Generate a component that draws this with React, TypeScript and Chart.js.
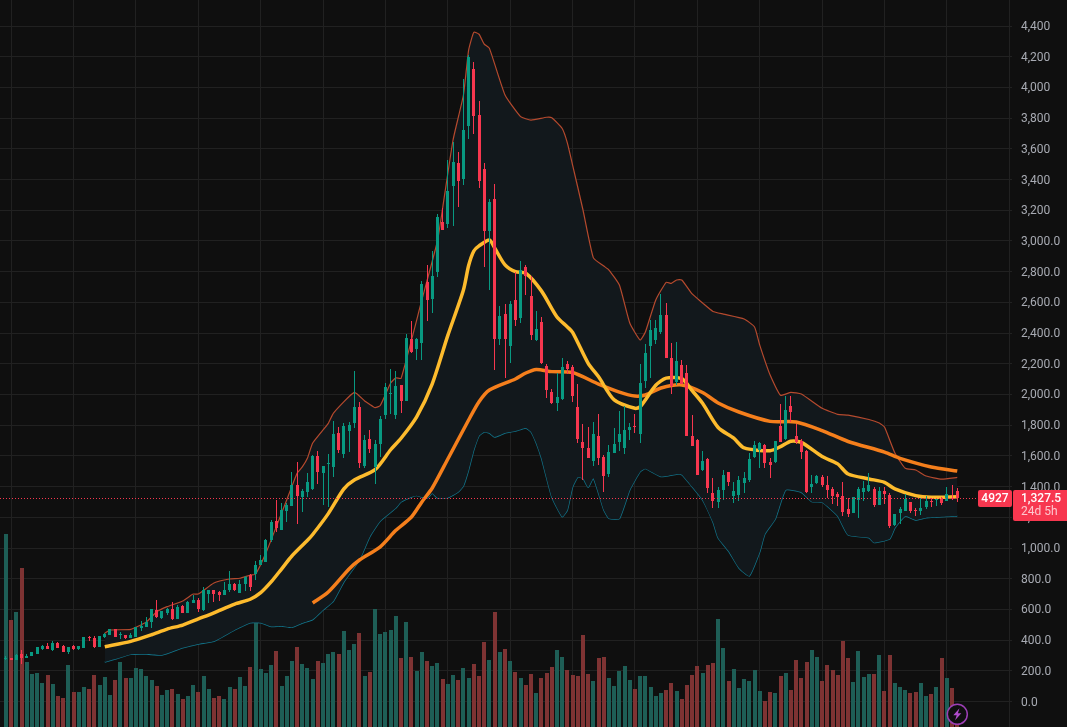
import React, { useEffect, useRef } from "react";
import Chart from "chart.js/auto";

const opens = [
  279,282,271,310,284,297,310,344,362,336,
  381,362,323,360,342,349,418,414,353,418,
  433,470,431,431,414,423,479,486,516,596,
  542,579,603,538,622,577,642,661,598,698,
  724,713,694,727,766,709,766,822,829,889,
  911,1050,1176,1117,1239,1274,1411,1330,1365,1385,
  1599,1489,1550,1528,1749,1612,1762,1814,1919,1534,
  1710,1528,1678,1866,2000,1866,2062,1958,2362,2297,
  2338,2734,2623,2799,3127,3111,3359,3509,3404,3750,
  4121,3821,3470,3066,3274,2362,2525,2317,2616,2499,
  2831,2642,2356,2473,2186,2017,1946,1972,2200,2179,
  1919,1691,1652,1567,1730,1593,1482,1619,1691,1652,
  1769,1795,1743,2088,2316,2355,2407,2518,2238,2081,
  2192,2140,1730,1704,1508,1580,1359,1300,1378,1495,
  1339,1345,1424,1443,1593,1638,1671,1560,1560,1795,
  1710,1925,1730,1697,1632,1398,1424,1463,1411,1385,
  1352,1339,1254,1228,1313,1365,1372,1385,1280,1372,
  1346,1150,1228,1241,1300,1248,1241,1267,1300,1311,
  1319,1306,1324,1373,
];
const closes = [
  283,271,305,281,295,323,353,362,342,381,
  349,323,353,342,362,418,414,353,427,440,
  470,418,436,414,433,483,494,520,601,551,
  590,601,538,616,577,651,661,603,727,724,
  700,694,727,766,727,766,811,746,889,924,
  1050,1169,1132,1248,1278,1411,1339,1369,1428,1599,
  1497,1534,1552,1743,1636,1795,1801,1919,1554,1704,
  1645,1678,1840,2049,2010,2055,1958,2369,2280,2362,
  2720,2616,2773,3159,3072,3326,3515,3391,3724,4201,
  3815,3391,3066,3255,2362,2512,2362,2590,2486,2812,
  2773,2388,2427,2206,2030,1946,1985,2180,2167,1990,
  1710,1652,1587,1743,1587,1469,1626,1678,1743,1769,
  1788,1791,2075,2270,2420,2433,2518,2238,2055,2218,
  2068,1730,1665,1476,1567,1391,1306,1378,1476,1430,
  1372,1443,1456,1580,1671,1682,1554,1541,1697,1691,
  1899,1886,1691,1626,1365,1417,1469,1411,1378,1339,
  1333,1235,1222,1332,1385,1391,1411,1280,1372,1352,
  1144,1222,1254,1319,1241,1241,1261,1306,1297,1317,
  1293,1352,1319,1327.5,
];
const highs = [
  295,283,309,336,310,325,355,368,379,394,
  386,368,357,370,364,420,427,427,428,449,
  471,471,453,433,444,488,522,551,602,661,
  592,609,648,627,627,653,694,674,744,726,
  727,720,779,850,770,792,818,829,915,955,
  1059,1180,1313,1291,1296,1495,1560,1385,1487,1606,
  1632,1534,1612,1827,1788,1814,1821,2153,1951,1736,
  1769,1704,1860,2075,2166,2153,2062,2395,2480,2370,
  2740,2844,2935,3179,3213,3528,3645,3580,4056,4210,
  4166,3912,3509,3274,3372,2577,2590,2610,2799,2870,
  2844,2773,2545,2506,2200,2037,2139,2239,2219,2192,
  2068,1808,1788,1821,1873,1606,1671,1782,1893,1925,
  1814,1873,2199,2329,2485,2485,2655,2596,2335,2342,
  2225,2192,1867,1708,1632,1586,1456,1398,1508,1497,
  1430,1470,1495,1619,1697,1691,1680,1587,1699,1938,
  1990,1990,1808,1710,1639,1476,1476,1476,1469,1398,
  1365,1430,1326,1334,1398,1437,1489,1398,1398,1398,
  1359,1224,1267,1352,1302,1261,1326,1339,1326,1326,
  1330,1398,1409,1389,
];
const lows = [
  268,270,270,245,282,296,308,336,340,329,
  347,322,310,336,336,347,392,349,352,414,
  432,417,407,405,412,421,460,485,479,544,
  538,564,531,536,575,575,640,583,592,642,
  651,657,692,711,722,705,720,722,792,888,
  907,1041,1107,1117,1170,1274,1157,1235,1330,1378,
  1417,1280,1269,1463,1621,1586,1625,1782,1521,1521,
  1619,1417,1593,1840,1873,1840,1880,1958,2269,2226,
  2226,2480,2530,2766,3072,3085,3098,3222,3365,3665,
  3697,3346,2831,2681,2160,2323,2108,2206,2447,2467,
  2649,2356,2350,2200,1978,1939,1893,1965,2134,1951,
  1684,1443,1585,1534,1541,1365,1463,1617,1632,1613,
  1702,1749,1684,2042,2108,2329,2394,2236,2003,2062,
  2066,1728,1663,1474,1502,1359,1261,1261,1313,1404,
  1290,1309,1356,1430,1587,1521,1521,1456,1554,1689,
  1704,1821,1678,1580,1359,1359,1417,1395,1326,1287,
  1274,1209,1202,1226,1196,1306,1365,1267,1278,1287,
  1131,1144,1157,1239,1228,1209,1215,1254,1267,1274,
  1280,1304,1313,1300,
];
const volumes = [
  193,107,115,159,65,53,54,44,52,43,
  31,29,62,35,35,40,38,52,42,50,
  32,47,65,49,49,59,58,51,47,41,
  32,37,38,33,28,31,42,35,51,38,
  29,31,28,40,38,50,41,60,120,58,
  54,62,76,41,51,66,80,63,59,48,
  66,64,73,75,73,96,77,83,94,51,
  55,118,93,95,97,111,69,105,70,56,
  75,66,61,64,48,43,52,47,59,49,
  63,51,85,67,115,75,78,66,55,49,
  42,53,34,49,54,60,77,70,57,52,
  51,92,53,46,69,70,49,41,56,61,
  47,38,51,51,40,31,34,37,44,36,
  28,42,52,61,54,62,64,108,79,46,
  58,39,48,46,57,36,26,35,34,51,
  54,37,67,49,65,77,70,46,62,57,
  52,86,69,45,76,50,53,53,72,36,
  72,44,40,37,34,35,44,31,33,40,
  69,49,39,2,
];

const fastIdx = [
  19,24,28,31,34,37,40,44,47,49,
  51,53,55,58,59,62,65,67,71,74,
  76,79,82,85,88,89,90,91,93,
  94,96,98,100,103,106,108,109,112,114,
  117,121,122,125,127,130,132,134,137,140,
  142,147,149,151,153,157,160,162,166,169,
  171,175,178,183,
];
const fastMa = [
  357,392,435,472,498,538,578,635,666,709,
  779,863,948,1050,1088,1224,1385,1443,1510,1640,
  1715,1855,2070,2385,2681,2840,2935,2968,3007,
  2955,2844,2800,2790,2675,2505,2440,2405,2203,2115,
  1965,1910,1920,2060,2107,2103,2025,1943,1785,1715,
  1652,1634,1660,1695,1688,1596,1548,1482,1450,1428,
  1385,1341,1330,1334,
];
const slowIdx = [
  59,62,66,68,72,75,78,80,82,85,
  89,91,93,98,100,102,105,109,114,118,
  121,123,126,130,134,137,141,147,152,157,
  162,169,172,178,183,
];
const slowMa = [
  642,713,863,922,1008,1115,1202,1300,1391,1580,
  1834,1953,2029,2101,2140,2163,2149,2143,2068,2016,
  1990,1997,2042,2062,2013,1945,1886,1825,1821,1765,
  1694,1625,1584,1528,1502,
];
const upperIdx = [
  19,20,24,27,29,31,34,36,37,40,
  43,45,47,48,50,52,54,56,57,58,
  59,62,63,67,69,70,71,72,74,75,
  76,80,83,84,86,88,89,90,91,92,
  93,96,99,101,104,105,107,108,109,111,
  113,115,116,118,120,122,123,125,127,128,
  129,130,132,134,136,138,142,144,145,147,
  149,151,153,157,160,162,166,168,169,171,
  173,175,177,180,183,
];
const upperBand = [
  444,466,470,518,585,618,655,700,700,772,
  798,803,824,829,967,1139,1313,1487,1528,1586,
  1684,1812,1879,2014,1958,1935,1914,1928,2075,2108,
  2105,2616,3000,3215,3658,3951,4244,4360,4347,4283,
  4255,3951,3810,3788,3806,3803,3733,3638,3495,3202,
  2890,2837,2811,2713,2466,2355,2407,2616,2731,2724,
  2746,2746,2655,2596,2541,2524,2492,2440,2322,2127,
  1995,2014,2003,1910,1871,1866,1837,1814,1788,1619,
  1519,1508,1469,1449,1460,
];
const lowerIdx = [
  19,21,24,27,30,34,37,40,44,47,
  49,51,53,55,57,59,61,63,65,68,
  70,72,75,76,78,79,81,82,83,85,
  87,88,89,90,91,92,93,94,96,98,
  100,101,102,103,105,107,108,109,110,111,
  112,113,115,116,118,120,122,123,126,129,
  130,132,134,136,137,139,141,143,145,146,
  148,150,153,155,157,160,162,166,167,170,
  171,173,175,177,183,
];
const lowerBand = [
  257,277,307,309,303,350,375,392,466,513,
  513,489,492,483,511,534,596,655,778,922,
  1074,1176,1261,1300,1332,1341,1324,1356,1326,1328,
  1365,1404,1508,1638,1730,1756,1749,1723,1749,1762,
  1782,1756,1684,1586,1332,1204,1248,1397,1461,1454,
  1395,1454,1248,1193,1191,1378,1497,1517,1465,1480,
  1478,1399,1313,1169,1065,980,870,818,974,1091,
  1189,1378,1363,1302,1298,1208,1085,1067,1035,1059,
  1130,1208,1182,1197,1208,
];

const priceTicks = [
  0,200,400,600,800,1000,1200,1400,1600,1800,2000,2200,
  2400,2600,2800,3000,3200,3400,3600,3800,4000,4200,4400,
];
const gridIdx = [1,13,25,37,49,61,73,85,97,109,121,133,145,157,169,181,193];
const lastLabel = "1,327.5";
const countdownLabel = "24d 5h";
const barCountLabel = "4927";

const UP = "#089981";
const DOWN = "#f7374f";
const FONT = "Roboto";
const labels = opens.map((_, i) => i);
const candleColor = (c: any) =>
  closes[c.dataIndex] >= opens[c.dataIndex] ? UP : DOWN;
const points = (idx: number[], vals: number[]) =>
  idx.map((x, k) => ({ x, y: vals[k] }));

// Keeps bars on whole device pixels, as the reference's renderer does.
const snapBars = {
  id: "snapBars",
  beforeDatasetsDraw(chart: any) {
    chart.data.datasets.forEach((ds: any, i: number) => {
      if (ds.type === "line") return;
      chart.getDatasetMeta(i).data.forEach((el: any) => {
        if (ds.barThickness % 2 === 1) el.x = Math.floor(el.x) + 0.5;
        else el.x = Math.round(el.x);
        const top = Math.round(Math.min(el.y, el.base));
        const bottom = Math.max(Math.round(Math.max(el.y, el.base)), top + 1);
        el.y = top;
        el.base = bottom;
      });
    });
  },
};

const overlay = {
  id: "overlay",
  afterDatasetsDraw(chart: any) {
    const { ctx, scales } = chart;
    const y = Math.round(scales.y.getPixelForValue(closes[closes.length - 1])) + 0.5;
    ctx.save();
    ctx.strokeStyle = DOWN;
    ctx.lineWidth = 1;
    ctx.setLineDash([1, 2]);
    ctx.beginPath();
    ctx.moveTo(0, y);
    ctx.lineTo(978, y);
    ctx.stroke();
    ctx.setLineDash([]);

    ctx.fillStyle = DOWN;
    ctx.beginPath();
    ctx.roundRect(978, 490, 34, 17, 2);
    ctx.fill();
    ctx.beginPath();
    ctx.roundRect(1013, 490, 54, 31, [2, 0, 0, 2]);
    ctx.fill();

    ctx.textBaseline = "middle";
    ctx.textAlign = "center";
    ctx.fillStyle = "#ffffff";
    ctx.font = `500 12px ${FONT}`;
    ctx.fillText(barCountLabel, 995, 499);
    ctx.textAlign = "left";
    ctx.fillText(lastLabel, 1021, 499);
    ctx.font = `400 12px ${FONT}`;
    ctx.fillStyle = "rgba(255,255,255,0.72)";
    ctx.fillText(countdownLabel, 1021, 512);

    const cx = 957.3;
    const cy = 714.3;
    ctx.beginPath();
    ctx.arc(cx, cy, 10, 0, Math.PI * 2);
    ctx.fillStyle = "#0f0f0f";
    ctx.fill();
    ctx.lineWidth = 1.5;
    ctx.strokeStyle = "#9c3fb5";
    ctx.stroke();
    ctx.fillStyle = "#b04ccc";
    ctx.beginPath();
    ctx.moveTo(cx + 2.2, cy - 6);
    ctx.lineTo(cx - 4, cy + 1);
    ctx.lineTo(cx - 0.6, cy + 1);
    ctx.lineTo(cx - 2.2, cy + 6);
    ctx.lineTo(cx + 4, cy - 1);
    ctx.lineTo(cx + 0.6, cy - 1);
    ctx.closePath();
    ctx.fill();
    ctx.restore();
  },
};

export default function App() {
  const ref = useRef<HTMLCanvasElement>(null);
  useEffect(() => {
    const chart = new Chart(ref.current as HTMLCanvasElement, {
      type: "bar",
      plugins: [snapBars, overlay],
      data: {
        labels,
        datasets: [
          {
            label: "Volume",
            data: volumes,
            yAxisID: "vol",
            order: 6,
            grouped: false,
            barThickness: 4,
            inflateAmount: 0,
            backgroundColor: (c: any) =>
              closes[c.dataIndex] >= opens[c.dataIndex] ? "#1e5e56" : "#7e3333",
          },
          {
            type: "line",
            label: "Upper band",
            data: points(upperIdx, upperBand),
            order: 5,
            borderColor: "#b54a2e",
            borderWidth: 1.2,
            pointRadius: 0,
            tension: 0.15,
            fill: "+1",
            backgroundColor: "#12181c",
          },
          {
            type: "line",
            label: "Lower band",
            data: points(lowerIdx, lowerBand),
            order: 5,
            borderColor: "#12748a",
            borderWidth: 1.4,
            pointRadius: 0,
            tension: 0.15,
            fill: false,
          },
          {
            type: "line",
            label: "Slow MA",
            data: points(slowIdx, slowMa),
            order: 4,
            borderColor: "#f57f1c",
            borderWidth: 3.5,
            pointRadius: 0,
            tension: 0.25,
            fill: false,
          },
          {
            type: "line",
            label: "Fast MA",
            data: points(fastIdx, fastMa),
            order: 3,
            borderColor: "#fdbb2d",
            borderWidth: 3.5,
            pointRadius: 0,
            tension: 0.25,
            fill: false,
          },
          {
            label: "Wick",
            data: lows.map((l, i) => [l, highs[i]]),
            order: 2,
            grouped: false,
            barThickness: 1,
            inflateAmount: 0,
            backgroundColor: candleColor,
          },
          {
            label: "Body",
            data: opens.map((o, i) => [o, closes[i]]),
            order: 1,
            grouped: false,
            barThickness: 3,
            inflateAmount: 0,
            minBarLength: 1,
            backgroundColor: candleColor,
          },
        ] as any,
      },
      options: {
        animation: false,
        responsive: false,
        layout: { padding: 0 },
        plugins: { legend: { display: false }, tooltip: { enabled: false } },
        scales: {
          x: {
            type: "linear",
            min: -1.154,
            max: 193.53,
            offset: false,
            bounds: "data",
            border: { display: false },
            grid: { offset: false, color: "#212121", drawTicks: false },
            ticks: { display: false, autoSkip: false },
            afterBuildTicks: (s: any) => {
              s.ticks = gridIdx.map((value) => ({ value }));
            },
            afterFit: (s: any) => {
              s.height = 0;
              s.paddingLeft = 0;
              s.paddingRight = 0;
              s.paddingTop = 0;
              s.paddingBottom = 0;
            },
          },
          y: {
            type: "linear",
            position: "right",
            min: -166.1,
            max: 4570,
            bounds: "data",
            border: { display: false },
            grid: { color: "#212121", drawTicks: false },
            ticks: {
              autoSkip: false,
              padding: 9,
              labelOffset: 1,
              color: "#a8abb3",
              font: { family: FONT, size: 12 },
              callback: (v: any) =>
                Number(v).toLocaleString("en-US", {
                  minimumFractionDigits: v > 3000 ? 0 : 1,
                  maximumFractionDigits: v > 3000 ? 0 : 1,
                }),
            },
            afterBuildTicks: (s: any) => {
              s.ticks = priceTicks.map((value) => ({ value }));
            },
            afterFit: (s: any) => {
              s.width = 55;
              s.paddingTop = 0;
              s.paddingBottom = 0;
            },
          },
          vol: {
            type: "linear",
            display: false,
            min: 0,
            max: 727,
            bounds: "data",
            grid: { display: false },
          },
        },
      } as any,
    });
    return () => chart.destroy();
  }, []);
  return (
    <div
      style={{
        position: "absolute",
        left: 0,
        top: 0,
        width: 1067,
        height: 727,
        background: "#0f0f0f",
        overflow: "hidden",
      }}
    >
      <canvas ref={ref} width={1067} height={727} style={{ display: "block" }} />
    </div>
  );
}
